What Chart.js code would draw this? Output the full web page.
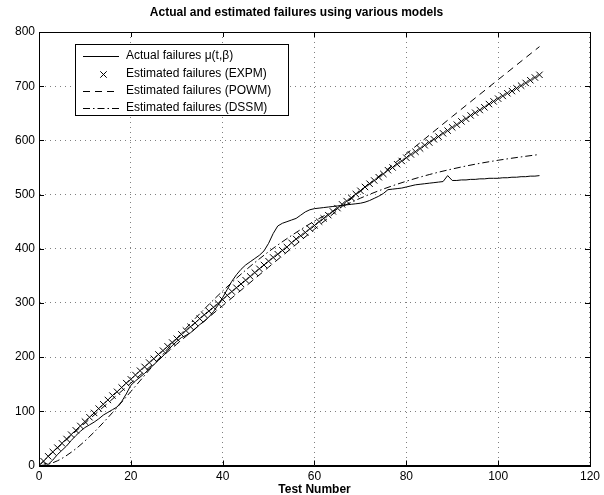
<!DOCTYPE html>
<html>
<head>
<meta charset="utf-8">
<title>Actual and estimated failures using various models</title>
<script src="https://cdn.jsdelivr.net/npm/chart.js@4.4.1/dist/chart.umd.min.js"></script>
<style>
  html, body { margin: 0; padding: 0; background: #fff; }
  #wrap { width: 604px; height: 495px; }
</style>
</head>
<body>
<div id="wrap"><canvas id="failChart" width="604" height="495"></canvas></div>
<script>
// Test numbers (x) for the per-test series
const testNumbers = [1,2,3,4,5,6,7,8,9,10,11,12,13,14,15,16,17,18,19,20,
  21,22,23,24,25,26,27,28,29,30,31,32,33,34,35,36,37,38,39,40,
  41,42,43,44,45,46,47,48,49,50,51,52,53,54,55,56,57,58,59,60,
  61,62,63,64,65,66,67,68,69,70,71,72,73,74,75,76,77,78,79,80,
  81,82,83,84,85,86,87,88,89,90,91,92,93,94,95,96,97,98,99,100,
  101,102,103,104,105,106,107,108,109];

// Actual failures mu(t,beta)
const actualFailures = [5,2,10,20,28,36,46,55,63,70,75,80,86,93,98,103,108,118,132,148,
  156,163,170,178,186,194,202,212,221,229,236,240,245,252,260,266,274,284,296,310,
  325,340,352,362,370,376,382,388,396,410,428,442,447,450,453,456,462,468,472,474,
  475,476,477,478,479,480,481,482,483,484,486,489,493,497,502,509,510,511,512,514,
  516,518,519,520,521,522,523,524,535,526,526,527,527,528,528,529,529,530,530,530,
  531,531,532,532,533,533,534,534,535];

// Estimated failures, exponential model (one marker per test)
const expmFailures = [8,17,25,33,41,49,57,65,73,81,89,97,105,113,121,129,136,144,152,159,
  167,175,182,190,197,205,212,220,227,234,242,249,256,263,271,278,285,292,299,306,
  314,321,328,335,342,349,356,363,370,377,384,390,397,403,411,418,424,430,437,443,
  450,456,462,469,475,482,488,494,501,507,514,520,526,532,538,545,550,556,562,568,
  574,579,585,591,596,602,607,613,618,624,629,635,640,646,651,656,661,667,672,677,
  682,687,691,696,701,706,711,716,721];

// Estimated failures, power model
const powmTests = [0,1,5,10,20,30,40,50,60,70,80,90,100,109];
const powmFailures = [0,8.6,40,78,152,224,295,366,436,506,575,644,712,773];

// Estimated failures, delayed S-shaped model
const dssmTests = [0,1,4,8,12,16,20,25,30,35,40,45,50,55,60,65,70,75,80,85,90,95,100,105,109];
const dssmFailures = [0,0.6,8.6,30.7,61.6,97.6,136.5,186,234.5,280,322,360.4,394.5,424.4,451,
  473.5,493.3,510.2,524.6,536.9,547.2,556,563.3,569.5,574];

const legendLabels = [
  'Actual failures \u03bc(t,\u03b2)',
  'Estimated failures (EXPM)',
  'Estimated failures (POWM)',
  'Estimated failures (DSSM)'
];

const FONT = "'Liberation Sans', Arial, Helvetica, sans-serif";
const DASHED = [7, 5];
const DASHDOT = [7, 3, 1.5, 3];

function toPoints(xs, ys) {
  return xs.map((x, i) => ({ x: x, y: ys[i] }));
}

// Box around the axes plus MATLAB style inward tick marks
const boxPlugin = {
  id: 'boxPlugin',
  afterDatasetsDraw(chart) {
    const { ctx, chartArea: a, scales } = chart;
    ctx.save();
    ctx.strokeStyle = '#000';
    ctx.lineWidth = 1;
    ctx.setLineDash([]);
    ctx.beginPath();
    scales.x.ticks.forEach(t => {
      const px = Math.round(scales.x.getPixelForValue(t.value)) + 0.5;
      ctx.moveTo(px, a.bottom); ctx.lineTo(px, a.bottom - 5);
      ctx.moveTo(px, a.top); ctx.lineTo(px, a.top + 5);
    });
    scales.y.ticks.forEach(t => {
      const py = Math.round(scales.y.getPixelForValue(t.value)) + 0.5;
      ctx.moveTo(a.left, py); ctx.lineTo(a.left + 5, py);
      ctx.moveTo(a.right, py); ctx.lineTo(a.right - 5, py);
    });
    ctx.stroke();
    ctx.strokeRect(Math.round(a.left) + 0.5, Math.round(a.top) + 0.5,
      Math.round(a.right - a.left), Math.round(a.bottom - a.top));
    ctx.restore();
  }
};

// Legend box drawn inside the plot, top left
const legendPlugin = {
  id: 'legendPlugin',
  afterDraw(chart) {
    const ctx = chart.ctx;
    const bx = 75.5, by = 44.5, bw = 213, bh = 71;
    ctx.save();
    ctx.fillStyle = '#fff';
    ctx.fillRect(bx, by, bw, bh);
    ctx.strokeStyle = '#000';
    ctx.lineWidth = 1;
    ctx.strokeRect(bx, by, bw, bh);
    ctx.font = '12px ' + FONT;
    ctx.fillStyle = '#000';
    ctx.textBaseline = 'middle';
    const rowY = [56, 73.5, 91, 108];
    legendLabels.forEach((label, i) => {
      const y = Math.round(rowY[i]) + 0.5;
      ctx.beginPath();
      if (i === 1) {
        ctx.setLineDash([]);
        ctx.moveTo(100.3, y - 3.2); ctx.lineTo(106.7, y + 3.2);
        ctx.moveTo(100.3, y + 3.2); ctx.lineTo(106.7, y - 3.2);
      } else {
        ctx.setLineDash(i === 0 ? [] : (i === 2 ? DASHED : DASHDOT));
        ctx.moveTo(83, y); ctx.lineTo(119, y);
      }
      ctx.stroke();
      ctx.fillText(label, 126, rowY[i]);
    });
    ctx.restore();
  }
};

const ctx = document.getElementById('failChart').getContext('2d');
const failChart = new Chart(ctx, {
  type: 'scatter',
  data: {
    datasets: [
      {
        label: legendLabels[0],
        data: toPoints(testNumbers, actualFailures),
        showLine: true,
        borderColor: '#000',
        borderWidth: 1,
        pointRadius: 0,
        tension: 0
      },
      {
        label: legendLabels[1],
        data: toPoints(testNumbers, expmFailures),
        showLine: false,
        pointStyle: 'crossRot',
        pointRadius: 4.5,
        borderColor: '#000',
        pointBorderWidth: 1
      },
      {
        label: legendLabels[2],
        data: toPoints(powmTests, powmFailures),
        showLine: true,
        borderColor: '#000',
        borderWidth: 1,
        borderDash: DASHED,
        pointRadius: 0,
        cubicInterpolationMode: 'monotone'
      },
      {
        label: legendLabels[3],
        data: toPoints(dssmTests, dssmFailures),
        showLine: true,
        borderColor: '#000',
        borderWidth: 1,
        borderDash: DASHDOT,
        pointRadius: 0,
        cubicInterpolationMode: 'monotone'
      }
    ]
  },
  options: {
    responsive: false,
    animation: false,
    layout: { padding: { left: 0, right: 11, top: 0, bottom: 0 } },
    plugins: {
      legend: { display: false },
      tooltip: { enabled: false },
      title: {
        display: true,
        text: 'Actual and estimated failures using various models',
        color: '#000',
        font: { family: FONT, size: 12, weight: 'bold' },
        padding: { top: 5, bottom: 12.6 }
      }
    },
    scales: {
      x: {
        type: 'linear',
        min: 0, max: 120,
        afterFit(scale) { scale.height = 29.5; },
        ticks: { stepSize: 20, color: '#000', padding: 4, font: { family: FONT, size: 12 } },
        grid: { color: 'rgba(0,0,0,0.5)', lineWidth: 1, drawTicks: false },
        border: { display: true, color: '#000', width: 1, dash: [1, 4] },
        title: {
          display: true, text: 'Test Number', color: '#000',
          font: { family: FONT, size: 12, weight: 'bold' },
          padding: { top: 0, bottom: -2 }
        }
      },
      y: {
        min: 0, max: 800,
        afterFit(scale) { scale.width = 39; },
        ticks: { stepSize: 100, color: '#000', padding: 4, font: { family: FONT, size: 12 } },
        grid: { color: 'rgba(0,0,0,0.5)', lineWidth: 1, drawTicks: false },
        border: { display: true, color: '#000', width: 1, dash: [1, 4] }
      }
    }
  },
  plugins: [boxPlugin, legendPlugin]
});
</script>
</body>
</html>
